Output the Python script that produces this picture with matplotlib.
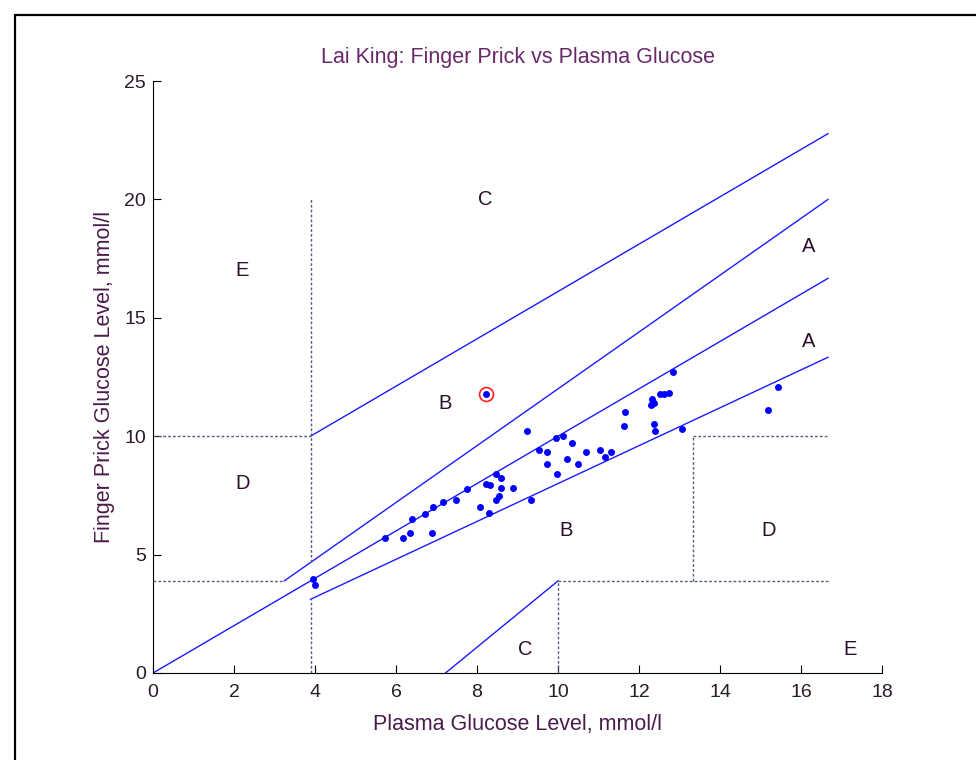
import matplotlib
matplotlib.use("Agg")
import matplotlib.pyplot as plt
from matplotlib.patches import Rectangle

plt.rcParams['font.family'] = ['Liberation Sans', 'DejaVu Sans']

# ---- data (mmol/l) ----
plasma = [3.94, 4.01, 5.73, 6.18, 6.35, 6.39, 6.72, 6.89, 6.92, 7.17,
          7.47, 7.76, 8.07, 8.22, 8.32, 8.30, 8.47, 8.58, 8.58, 8.88,
          8.55, 8.48, 9.33, 9.24, 9.54, 9.72, 9.74, 9.98, 9.94, 10.13,
          10.23, 10.34, 10.50, 10.70, 11.04, 11.17, 11.32, 11.62, 11.66, 12.29,
          12.33, 12.33, 12.38, 12.37, 12.40, 12.52, 12.62, 12.74, 12.83, 13.07,
          15.19, 15.44, 8.22]
finger = [3.95, 3.72, 5.68, 5.68, 5.93, 6.50, 6.71, 5.91, 7.03, 7.24,
          7.31, 7.75, 7.03, 7.98, 7.95, 6.74, 8.42, 8.25, 7.82, 7.82,
          7.47, 7.31, 7.32, 10.23, 9.43, 9.33, 8.83, 8.40, 9.94, 10.00,
          9.05, 9.73, 8.83, 9.35, 9.43, 9.13, 9.35, 10.45, 11.04, 11.32,
          11.38, 11.55, 11.42, 10.53, 10.22, 11.77, 11.78, 11.84, 12.70, 10.30,
          11.11, 12.06, 11.77]
highlight_x = [8.22]
highlight_y = [11.77]

# Clarke error grid boundaries (mg/dl -> mmol/l)
k = 18.0
solid_lines = [
    ([0, 300 / k], [0, 300 / k]),                 # diagonal
    ([175 / 3 / k, 300 / k], [70 / k, 360 / k]),  # upper A
    ([70 / k, 300 / k], [180 / k, 410 / k]),      # upper C
    ([70 / k, 300 / k], [56 / k, 240 / k]),       # lower A
    ([130 / k, 180 / k], [0, 70 / k]),            # lower C
]
dotted_lines = [
    ([0, 175 / 3 / k], [70 / k, 70 / k]),
    ([70 / k, 70 / k], [84 / k, 360 / k]),
    ([0, 70 / k], [180 / k, 180 / k]),
    ([70 / k, 70 / k], [0, 56 / k]),
    ([180 / k, 180 / k], [0, 70 / k]),
    ([180 / k, 300 / k], [70 / k, 70 / k]),
    ([240 / k, 240 / k], [70 / k, 180 / k]),
    ([240 / k, 300 / k], [180 / k, 180 / k]),
]
zone_labels = ['E', 'C', 'A', 'A', 'B', 'D', 'B', 'D', 'C', 'E']
zone_x = [2.2, 8.2, 16.2, 16.2, 7.2, 2.2, 10.2, 15.2, 9.2, 17.2]
zone_y = [17.0, 20.0, 18.0, 14.0, 11.4, 8.0, 6.0, 6.0, 1.0, 1.0]

txt_col = '#4a1c4a'

fig = plt.figure(figsize=(9.76, 7.6), dpi=100)
ax = fig.add_axes([0.1568, 0.1145, 0.7469, 0.7789])

for xs, ys in solid_lines:
    ax.plot(xs, ys, color='#1a1aff', linewidth=1.0)
for xs, ys in dotted_lines:
    ax.plot(xs, ys, color='#556077', linewidth=1.0, linestyle=(0, (2, 1.5)))

ax.plot(plasma, finger, 'o', color='#0000ff', markersize=5, markeredgewidth=0)
ax.plot(highlight_x, highlight_y, 'o', markerfacecolor='none',
        markeredgecolor='#ff2020', markersize=10, markeredgewidth=1.2)

for lab, x, y in zip(zone_labels, zone_x, zone_y):
    ax.text(x, y, lab, ha='center', va='center', fontsize=14.5, color='#2a102a')

ax.set_xlim(0, 18)
ax.set_ylim(0, 25)
ax.set_xticks(range(0, 19, 2))
ax.set_yticks(range(0, 26, 5))
ax.spines['top'].set_visible(False)
ax.spines['right'].set_visible(False)
ax.tick_params(axis='both', direction='in', length=6, labelsize=14, labelcolor='#2a1a2a')
ax.tick_params(axis='x', pad=8)
ax.tick_params(axis='y', pad=5)

ax.set_title('Lai King: Finger Prick vs Plasma Glucose', fontsize=15.5,
             color='#6a2a6a', pad=13)
ax.set_xlabel('Plasma Glucose Level, mmol/l', fontsize=15.5, color=txt_col, labelpad=9)
ax.set_ylabel('Finger Prick Glucose Level, mmol/l', fontsize=15.5, color=txt_col, labelpad=7)

# outer frame of the screenshot
fig.patches.append(Rectangle((15 / 976, -0.05), 1.2, 1.05 - 15 / 760,
                             transform=fig.transFigure, fill=False,
                             edgecolor='black', linewidth=1.6))

fig.savefig('out.png', dpi=100)
